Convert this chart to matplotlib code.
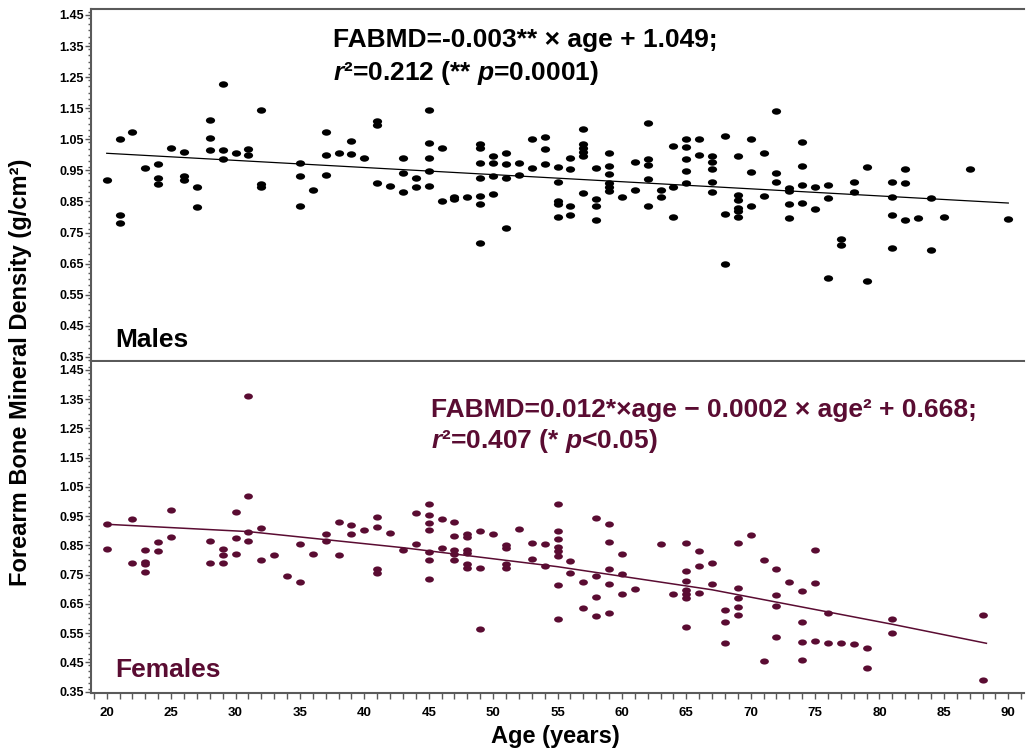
import numpy as np
import matplotlib
matplotlib.use("Agg")
import matplotlib.pyplot as plt
from matplotlib.path import Path
from matplotlib.ticker import MultipleLocator, FormatStrFormatter

plt.rcParams['font.family'] = ['Liberation Sans', 'DejaVu Sans']
plt.rcParams['font.weight'] = 'bold'
plt.rcParams['mathtext.fontset'] = 'custom'
plt.rcParams['mathtext.rm'] = 'Liberation Sans:bold'
plt.rcParams['mathtext.it'] = 'Liberation Sans:italic:bold'
plt.rcParams['mathtext.bf'] = 'Liberation Sans:bold'

# males
male_age = [20, 21, 21, 21, 22, 23, 24, 24, 24, 25, 26, 26, 26, 27, 27,
            28, 28, 28, 29, 29, 29, 30, 31, 31, 32, 32, 32,
            35, 35, 35, 36, 37, 37, 37, 38, 39, 39, 40, 41, 41, 41, 42,
            43, 43, 43, 44, 44, 45, 45, 45, 45, 45, 46, 46, 47, 47, 48,
            49, 49, 49, 49, 49, 49, 49, 50, 50, 50, 50, 51, 51, 51, 51,
            52, 52, 53, 53, 54, 54, 54, 55, 55, 55, 55, 55, 56, 56, 56, 56,
            57, 57, 57, 57, 57, 57, 58, 58, 58, 58, 59, 59, 59, 59, 59, 59,
            60, 61, 61, 62, 62, 62, 62, 62, 63, 63, 64, 64, 64,
            65, 65, 65, 65, 65, 66, 66, 67, 67, 67, 67, 67, 68, 68, 68,
            69, 69, 69, 69, 69, 69, 70, 70, 70, 71, 71, 72, 72, 72,
            73, 73, 73, 73, 74, 74, 74, 74, 75, 75, 76, 76, 76, 77, 77,
            78, 78, 79, 79, 81, 81, 81, 81, 82, 82, 82, 83, 84, 84, 85, 87, 90]
male_bmd = [0.919, 1.052, 0.806, 0.780, 1.072, 0.959, 0.971, 0.927, 0.906, 1.023,
            1.010, 0.932, 0.919, 0.895, 0.833,
            1.112, 1.054, 1.016, 1.228, 1.014, 0.986, 1.006, 1.020, 1.000,
            1.144, 0.906, 0.896,
            0.975, 0.932, 0.836, 0.886, 1.075, 1.000, 0.935, 1.005, 1.046, 1.002,
            0.990, 1.110, 1.095, 0.910, 0.900,
            0.991, 0.942, 0.880, 0.925, 0.896, 1.144, 1.038, 0.990, 0.949, 0.901,
            1.023, 0.851, 0.866, 0.858, 0.865,
            1.035, 1.023, 0.975, 0.924, 0.869, 0.842, 0.715, 0.996, 0.975, 0.932, 0.873,
            1.007, 0.972, 0.924, 0.766,
            0.975, 0.936, 1.051, 0.957, 1.058, 1.018, 0.972,
            0.961, 0.912, 0.850, 0.843, 0.800, 0.990, 0.955, 0.836, 0.806,
            1.082, 1.035, 1.021, 1.008, 0.996, 0.877, 0.957, 0.859, 0.836, 0.790,
            1.007, 0.964, 0.938, 0.909, 0.898, 0.885,
            0.866, 0.977, 0.886, 1.103, 0.987, 0.967, 0.921, 0.837, 0.887, 0.866,
            1.029, 0.898, 0.800,
            1.051, 1.025, 0.988, 0.949, 0.911, 1.051, 1.001,
            0.997, 0.977, 0.955, 0.914, 0.881, 1.061, 0.811, 0.649,
            0.996, 0.871, 0.855, 0.829, 0.819, 0.800, 1.052, 0.945, 0.837,
            1.007, 0.868, 1.141, 0.940, 0.913,
            0.893, 0.885, 0.842, 0.798, 1.042, 0.963, 0.904, 0.844, 0.896, 0.825,
            0.903, 0.862, 0.603, 0.730, 0.711,
            0.913, 0.879, 0.961, 0.593, 0.913, 0.863, 0.808, 0.702, 0.955, 0.910, 0.790,
            0.796, 0.862, 0.694, 0.800, 0.956, 0.793]

# females
female_age = [20, 20, 22, 22, 23, 23, 23, 23, 24, 24, 25, 25, 28, 28, 29, 29, 29,
              30, 30, 30, 31, 31, 31, 31, 32, 32, 33, 34, 35, 35, 36, 37, 37,
              38, 38, 39, 39, 40, 41, 41, 41, 41, 42, 43, 44, 44,
              45, 45, 45, 45, 45, 45, 45, 46, 46, 47, 47, 47, 47, 47,
              48, 48, 48, 48, 48, 48, 49, 49, 49, 50, 51, 51, 51, 51,
              52, 53, 53, 54, 54, 55, 55, 55, 55, 55, 55, 55, 55, 56, 56, 57, 57,
              58, 58, 58, 58, 59, 59, 59, 59, 59, 60, 60, 60, 61, 63, 64,
              65, 65, 65, 65, 65, 65, 65, 66, 66, 66, 67, 67, 68, 68, 68,
              69, 69, 69, 69, 69, 70, 71, 71, 72, 72, 72, 72, 73,
              74, 74, 74, 74, 75, 75, 75, 76, 76, 77, 78, 79, 79, 81, 81, 88, 88]
female_bmd = [0.924, 0.839, 0.940, 0.788, 0.834, 0.794, 0.787, 0.760, 0.863, 0.832,
              0.971, 0.880, 0.864, 0.791, 0.839, 0.816, 0.788,
              0.964, 0.874, 0.820, 1.362, 1.018, 0.897, 0.864, 0.911, 0.799,
              0.817, 0.745, 0.855, 0.723, 0.820, 0.890, 0.865,
              0.929, 0.816, 0.919, 0.889, 0.902, 0.948, 0.913, 0.770, 0.757,
              0.893, 0.833, 0.961, 0.854,
              0.991, 0.954, 0.926, 0.904, 0.828, 0.799, 0.736, 0.939, 0.841,
              0.931, 0.881, 0.834, 0.821, 0.800,
              0.889, 0.878, 0.834, 0.825, 0.786, 0.774, 0.899, 0.774, 0.563,
              0.889, 0.852, 0.840, 0.786, 0.774,
              0.907, 0.857, 0.803, 0.854, 0.780,
              0.991, 0.898, 0.870, 0.844, 0.829, 0.813, 0.714, 0.597, 0.797, 0.755,
              0.723, 0.635,
              0.944, 0.745, 0.675, 0.609, 0.924, 0.861, 0.768, 0.718, 0.620,
              0.821, 0.752, 0.683, 0.701, 0.853, 0.682,
              0.858, 0.763, 0.728, 0.698, 0.684, 0.670, 0.572, 0.831, 0.781, 0.688,
              0.789, 0.717, 0.628, 0.588, 0.517,
              0.859, 0.704, 0.671, 0.640, 0.613, 0.886, 0.799, 0.456,
              0.769, 0.679, 0.641, 0.536, 0.723,
              0.694, 0.587, 0.520, 0.458, 0.834, 0.720, 0.522, 0.618, 0.517,
              0.517, 0.511, 0.500, 0.432, 0.598, 0.551, 0.611, 0.390]

# fitted curves as drawn
male_fit_age = [20, 90]
male_fit_bmd = [1.005, 0.845]
female_fit_age = [20, 31, 43, 55, 67, 81, 88.3]
female_fit_bmd = [0.922, 0.897, 0.842, 0.777, 0.698, 0.580, 0.515]

x_ticks = [20, 25, 30, 35, 40, 45, 50, 55, 60, 65, 70, 75, 80, 85, 90]
y_ticks = [0.35, 0.45, 0.55, 0.65, 0.75, 0.85, 0.95, 1.05, 1.15, 1.25, 1.35, 1.45]

male_col = 'black'
female_col = '#5a0c32'
spine_col = '#5a5a5a'

circ = Path.unit_circle()
dot = Path(circ.vertices * [1.0, 0.7], circ.codes)

W, H = 1026, 754
fig = plt.figure(figsize=(W / 100, H / 100), dpi=100)
ax1 = fig.add_axes([91 / W, 1 - 361 / H, 933 / W, 352 / H])
ax2 = fig.add_axes([91 / W, 1 - 693 / H, 933 / W, 331 / H])

for ax in (ax1, ax2):
    ax.set_xlim(18.78, 91.22)
    ax.set_xticks(x_ticks)
    ax.xaxis.set_minor_locator(MultipleLocator(1))
    ax.set_yticks(y_ticks)
    ax.yaxis.set_major_formatter(FormatStrFormatter('%.2f'))
    ax.yaxis.set_minor_locator(MultipleLocator(0.02))
    ax.tick_params(which='both', direction='out', color=spine_col, width=1)
    ax.tick_params(axis='x', which='both', length=4, labelsize=9.5, pad=6)
    ax.tick_params(axis='y', which='major', length=4, labelsize=9, pad=1)
    ax.tick_params(axis='y', which='minor', length=2)
    ax.spines['right'].set_visible(False)
    for s in ('left', 'bottom', 'top'):
        ax.spines[s].set_color(spine_col)
        ax.spines[s].set_linewidth(1.5)

ax1.set_ylim(0.337, 1.469)
ax2.set_ylim(0.345, 1.477)
ax1.tick_params(axis='x', which='both', labelbottom=False)
ax2.spines['top'].set_visible(False)

ax1.scatter(male_age, male_bmd, marker=dot, s=44, color=male_col, linewidths=0, zorder=3)
ax1.plot(male_fit_age, male_fit_bmd, color=male_col, lw=0.9)
ax2.scatter(female_age, female_bmd, marker=dot, s=40, color=female_col, linewidths=0, zorder=3)
ax2.plot(female_fit_age, female_fit_bmd, color=female_col, lw=1.1)

fig.text(333 / W, 1 - 47 / H, 'FABMD=-0.003** \u00d7 age + 1.049;', fontsize=19,
         color=male_col, va='baseline')
fig.text(333 / W, 1 - 80 / H, '$\\mathit{r}$\u00b2=0.212 (** $\\mathit{p}$=0.0001)', fontsize=19,
         color=male_col, va='baseline')
fig.text(115 / W, 1 - 347 / H, 'Males', fontsize=19, color=male_col, va='baseline')

fig.text(431 / W, 1 - 417 / H, 'FABMD=0.012*\u00d7age \u2212 0.0002 \u00d7 age\u00b2 + 0.668;',
         fontsize=19, color=female_col, va='baseline')
fig.text(431 / W, 1 - 448 / H, '$\\mathit{r}$\u00b2=0.407 (* $\\mathit{p}$<0.05)', fontsize=19,
         color=female_col, va='baseline')
fig.text(115 / W, 1 - 677 / H, 'Females', fontsize=19, color=female_col, va='baseline')

fig.text(21 / W, 1 - 372 / H, 'Forearm Bone Mineral Density (g/cm\u00b2)', rotation=90,
         fontsize=17, ha='center', va='center')
fig.text(555 / W, 1 - 737 / H, 'Age (years)', fontsize=17, ha='center', va='center')

fig.savefig('out.png', dpi=100)
